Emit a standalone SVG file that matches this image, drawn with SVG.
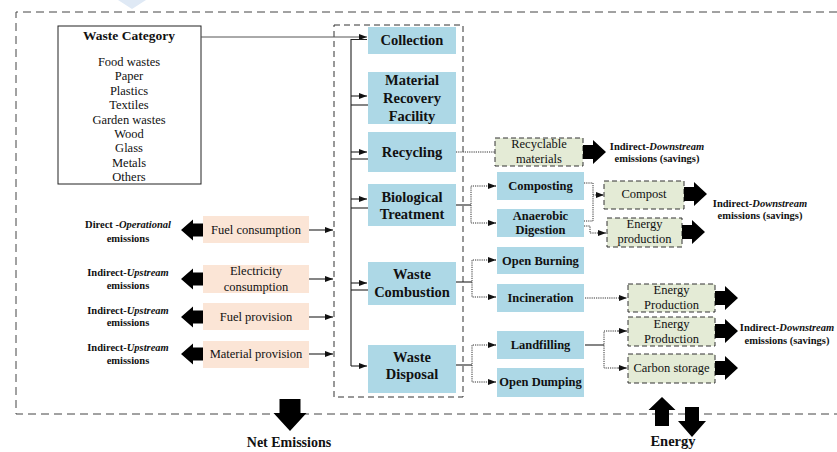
<svg xmlns="http://www.w3.org/2000/svg" xmlns:xlink="http://www.w3.org/1999/xlink" width="837" height="452" viewBox="0 0 837 452">
<style>
text{font-family:"Liberation Serif","DejaVu Serif","Times New Roman",serif;fill:#111;text-anchor:middle}
.main{font-size:14.5px;font-weight:bold}
.sub{font-size:12.5px;font-weight:bold}
.reg{font-size:12.5px}
.lab{font-size:10.5px;font-weight:bold}
.blue{fill:#add8e6}
.peach{fill:#fbe5d6}
.green{fill:#e4ebd6;stroke:#333;stroke-width:1;stroke-dasharray:5,3}
.ln{fill:none;stroke:#222;stroke-width:1.1}
.dot{fill:none;stroke:#333;stroke-width:1;stroke-dasharray:1.2,1}
.fat{fill:#000}
</style>
<defs>
<marker id="ah" viewBox="0 0 8 6" refX="8" refY="3" markerWidth="8" markerHeight="6" markerUnits="userSpaceOnUse" orient="auto">
<path d="M0,0 L8,3 L0,6 Z" fill="#111"/>
</marker>
<path id="fatL" d="M0,0 L12,-10.5 L12,-6.5 L22,-6.5 L22,6.5 L12,6.5 L12,10.5 Z"/>
<path id="fatR" d="M0,0 L-13,-12 L-13,-7 L-23,-7 L-23,7 L-13,7 L-13,12 Z"/>
</defs>

<!-- watermark fragment -->
<polygon points="118,0 146,0 132,9" fill="#dfe9f5"/>

<!-- boundaries -->
<path d="M837,12 H16 V414 H837" fill="none" stroke="#444" stroke-width="1" stroke-dasharray="8,5"/>
<rect x="334" y="25" width="129" height="372" fill="none" stroke="#333" stroke-width="1" stroke-dasharray="6,4"/>

<g id="waste-category">
<rect x="58" y="26" width="143" height="158" fill="#fff" stroke="#222" stroke-width="1"/>
<text x="129" y="40" style="font-size:13.5px;font-weight:bold">Waste Category</text>
<text class="reg" x="129" y="66">Food wastes</text>
<text class="reg" x="129" y="80">Paper</text>
<text class="reg" x="129" y="94.5">Plastics</text>
<text class="reg" x="129" y="109">Textiles</text>
<text class="reg" x="129" y="123.5">Garden wastes</text>
<text class="reg" x="129" y="138">Wood</text>
<text class="reg" x="129" y="152">Glass</text>
<text class="reg" x="129" y="167">Metals</text>
<text class="reg" x="129" y="181">Others</text>
</g>

<g id="collection"><rect class="blue" x="368" y="27" width="88" height="27"/><text class="main" x="412" y="45">Collection</text></g>
<g id="mrf"><rect class="blue" x="368" y="72" width="88" height="52"/><text class="main" x="412" y="85">Material</text><text class="main" x="412" y="103">Recovery</text><text class="main" x="412" y="121">Facility</text></g>
<g id="recycling"><rect class="blue" x="368" y="132" width="88" height="40"/><text class="main" x="412" y="157">Recycling</text></g>
<g id="biological"><rect class="blue" x="368" y="184" width="88" height="42"/><text class="main" x="412" y="202">Biological</text><text class="main" x="412" y="219">Treatment</text></g>
<g id="combustion"><rect class="blue" x="368" y="262" width="88" height="43"/><text class="main" x="412" y="279">Waste</text><text class="main" x="412" y="297">Combustion</text></g>
<g id="disposal"><rect class="blue" x="368" y="345" width="88" height="48"/><text class="main" x="412" y="362">Waste</text><text class="main" x="412" y="379">Disposal</text></g>

<g id="composting"><rect class="blue" x="497" y="172" width="87" height="28"/><text class="sub" x="540.5" y="190">Composting</text></g>
<g id="anaerobic"><rect class="blue" x="497" y="209" width="87" height="28"/><text class="sub" x="540.5" y="220">Anaerobic</text><text class="sub" x="540.5" y="234">Digestion</text></g>
<g id="open-burning"><rect class="blue" x="497" y="247" width="87" height="27"/><text class="sub" x="540.5" y="264.5">Open Burning</text></g>
<g id="incineration"><rect class="blue" x="497" y="284" width="87" height="28"/><text class="sub" x="540.5" y="301.5">Incineration</text></g>
<g id="landfilling"><rect class="blue" x="497" y="331" width="87" height="28"/><text class="sub" x="540.5" y="349">Landfilling</text></g>
<g id="open-dumping"><rect class="blue" x="497" y="368" width="87" height="29"/><text class="sub" x="540.5" y="386">Open Dumping</text></g>

<g id="fuel-consumption"><rect class="peach" x="203" y="216" width="106" height="27"/><text class="reg" x="256" y="234">Fuel consumption</text></g>
<g id="electricity"><rect class="peach" x="203" y="265" width="106" height="28"/><text class="reg" x="256" y="275">Electricity</text><text class="reg" x="256" y="291">consumption</text></g>
<g id="fuel-provision"><rect class="peach" x="203" y="303" width="106" height="27"/><text class="reg" x="256" y="321">Fuel provision</text></g>
<g id="material-provision"><rect class="peach" x="203" y="341" width="106" height="27"/><text class="reg" x="256" y="358">Material provision</text></g>

<g id="recyclable-materials"><rect class="green" x="495" y="138" width="88" height="28"/><text class="reg" x="539" y="148">Recyclable</text><text class="reg" x="539" y="163">materials</text></g>
<g id="compost"><rect class="green" x="604" y="181" width="80" height="28"/><text class="reg" x="644" y="198">Compost</text></g>
<g id="energy-production-ad"><rect class="green" x="607" y="218" width="75" height="29"/><text class="reg" x="644.5" y="228">Energy</text><text class="reg" x="644.5" y="243">production</text></g>
<g id="energy-production-inc"><rect class="green" x="628" y="284" width="87" height="28"/><text class="reg" x="671.5" y="294">Energy</text><text class="reg" x="671.5" y="309">Production</text></g>
<g id="energy-production-lf"><rect class="green" x="628" y="317" width="87" height="29"/><text class="reg" x="671.5" y="328">Energy</text><text class="reg" x="671.5" y="343">Production</text></g>
<g id="carbon-storage"><rect class="green" x="628" y="354" width="87" height="29"/><text class="reg" x="671.5" y="372">Carbon storage</text></g>

<g id="emission-labels">
<text class="lab" x="128" y="228">Direct -<tspan font-style="italic">Operational</tspan></text>
<text class="lab" x="128" y="242">emissions</text>
<text class="lab" x="128" y="276">Indirect-<tspan font-style="italic">Upstream</tspan></text>
<text class="lab" x="128" y="289">emissions</text>
<text class="lab" x="128" y="314">Indirect-<tspan font-style="italic">Upstream</tspan></text>
<text class="lab" x="128" y="326">emissions</text>
<text class="lab" x="128" y="351">Indirect-<tspan font-style="italic">Upstream</tspan></text>
<text class="lab" x="128" y="364">emissions</text>
<text class="lab" x="657" y="150">Indirect-<tspan font-style="italic">Downstream</tspan></text>
<text class="lab" x="657" y="162">emissions (savings)</text>
<text class="lab" x="760" y="207">Indirect-<tspan font-style="italic">Downstream</tspan></text>
<text class="lab" x="760" y="219">emissions (savings)</text>
<text class="lab" x="787" y="331">Indirect-<tspan font-style="italic">Downstream</tspan></text>
<text class="lab" x="787" y="344">emissions (savings)</text>
<text x="289" y="447" style="font-size:14px;font-weight:bold">Net Emissions</text>
<text x="673" y="446" style="font-size:14.5px;font-weight:bold">Energy</text>
</g>

<g id="connectors">
<line x1="201" y1="37" x2="367" y2="37" stroke="#555" stroke-width="1" marker-end="url(#ah)"/>
<path class="ln" d="M367,39.5 H351 V366"/>
<line class="ln" x1="351" y1="96" x2="367" y2="96" marker-end="url(#ah)"/>
<line class="ln" x1="351" y1="105" x2="368" y2="105"/>
<line class="ln" x1="351" y1="152" x2="367" y2="152" marker-end="url(#ah)"/>
<line class="ln" x1="351" y1="159" x2="368" y2="159"/>
<line class="ln" x1="351" y1="199" x2="367" y2="199" marker-end="url(#ah)"/>
<line class="ln" x1="351" y1="208" x2="368" y2="208"/>
<line class="ln" x1="351" y1="283" x2="367" y2="283" marker-end="url(#ah)"/>
<line class="ln" x1="351" y1="290" x2="368" y2="290"/>
<line class="ln" x1="351" y1="366" x2="367" y2="366" marker-end="url(#ah)"/>

<line class="ln" x1="309" y1="230" x2="333" y2="230" marker-end="url(#ah)"/>
<line class="ln" x1="309" y1="279" x2="333" y2="279" marker-end="url(#ah)"/>
<line class="ln" x1="309" y1="317" x2="333" y2="317" marker-end="url(#ah)"/>
<line class="ln" x1="309" y1="354" x2="333" y2="354" marker-end="url(#ah)"/>

<line class="dot" x1="456" y1="152" x2="495" y2="152"/>

<line class="ln" x1="456" y1="205" x2="471" y2="205"/>
<path class="dot" d="M496,186 H471 V223 H496" />
<line class="dot" x1="488" y1="186" x2="496" y2="186" marker-end="url(#ah)"/>
<line class="dot" x1="488" y1="223" x2="496" y2="223" marker-end="url(#ah)"/>

<line class="ln" x1="456" y1="282" x2="472" y2="282"/>
<path class="dot" d="M496,260 H472 V297 H496"/>
<line class="dot" x1="488" y1="260" x2="496" y2="260" marker-end="url(#ah)"/>
<line class="dot" x1="488" y1="297" x2="496" y2="297" marker-end="url(#ah)"/>

<line class="ln" x1="456" y1="365" x2="472" y2="365"/>
<path class="dot" d="M496,345 H472 V382 H496"/>
<line class="dot" x1="488" y1="345" x2="496" y2="345" marker-end="url(#ah)"/>
<line class="dot" x1="488" y1="382" x2="496" y2="382" marker-end="url(#ah)"/>

<path class="dot" d="M584,183 H593 V221 H584"/>
<line class="dot" x1="593" y1="195" x2="604" y2="195" marker-end="url(#ah)"/>
<path class="dot" d="M584,226 H590 V233 H606"/>
<line class="dot" x1="598" y1="233" x2="606" y2="233" marker-end="url(#ah)"/>

<line class="dot" x1="585" y1="298" x2="627" y2="298" marker-end="url(#ah)"/>
<line class="ln" x1="585" y1="345" x2="604" y2="345"/>
<path class="dot" d="M627,331 H604 V368 H627"/>
<line class="dot" x1="618" y1="331" x2="627" y2="331" marker-end="url(#ah)"/>
<line class="dot" x1="618" y1="368" x2="627" y2="368" marker-end="url(#ah)"/>
</g>

<g id="fat-arrows" class="fat">
<use href="#fatL" xlink:href="#fatL" x="181" y="230"/>
<use href="#fatL" xlink:href="#fatL" x="181" y="279"/>
<use href="#fatL" xlink:href="#fatL" x="181" y="317"/>
<use href="#fatL" xlink:href="#fatL" x="181" y="354"/>
<use href="#fatR" xlink:href="#fatR" x="606" y="152"/>
<use href="#fatR" xlink:href="#fatR" x="707" y="194"/>
<use href="#fatR" xlink:href="#fatR" x="705" y="232"/>
<use href="#fatR" xlink:href="#fatR" x="738" y="298"/>
<use href="#fatR" xlink:href="#fatR" x="738" y="331"/>
<use href="#fatR" xlink:href="#fatR" x="738" y="368"/>
<path d="M279.5,399 H300.5 V413 H306.5 L290,431 L273.5,413 H279.5 Z"/>
<path d="M662,397 L675.5,410 H669 V426 H655 V410 H648.5 Z"/>
<path d="M685,407 H699 V421 H706 L692,437 L678,421 H685 Z"/>
</g>
</svg>
